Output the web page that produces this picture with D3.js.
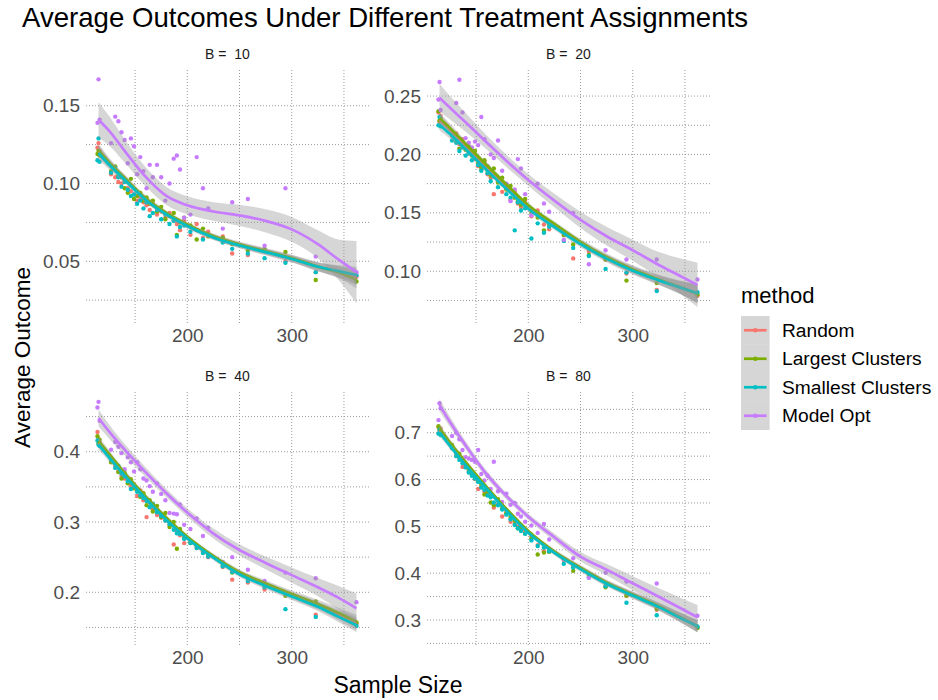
<!DOCTYPE html>
<html>
<head>
<meta charset="utf-8">
<script src="https://cdn.jsdelivr.net/npm/d3@7"></script>
<style>
  body { margin: 0; background: #fff; }
  svg { display: block; font-family: "Liberation Sans", Arial, sans-serif; }
  .grid line { stroke: #9a9a9a; stroke-width: 1; stroke-dasharray: 1 2; }
  .tick-label { fill: #4d4d4d; font-size: 19px; }
  .strip { white-space: pre; }
</style>
</head>
<body>
<div id="chart"></div>
<script>
const width = 938;
const height = 700;

const methods = ["Random", "Largest Clusters", "Smallest Clusters", "Model Opt"];
const methodColors = ["#F8766D", "#7CAE00", "#00BFC4", "#C77CFF"];
const panelLabels = ["B =  10", "B =  20", "B =  40", "B =  80"];

// network sizes shared by every panel
const sampleSizes = [114, 115, 116, 127, 131, 134, 137, 140, 143, 146, 149, 152, 155, 158, 161, 164, 167, 171,
  175, 179, 183, 187, 190, 193, 197, 203, 209, 215, 220, 234, 243, 258, 274, 294, 323, 362];

// B = 10
const b10Random = [0.123, 0.126, 0.121, 0.106, 0.104, 0.101, 0.100, 0.102, 0.097, 0.095, 0.093, 0.089, 0.091, 0.088,
  0.086, 0.083, 0.087, 0.080, 0.082, 0.078, 0.081, 0.076, 0.074, 0.070, 0.076, 0.067, 0.074, 0.065, 0.069, 0.066,
  0.055, 0.054, 0.057, 0.050, 0.043, 0.040];
const b10Largest = [0.119, 0.121, 0.118, 0.108, 0.111, 0.105, 0.104, 0.097, 0.094, 0.103, 0.090, 0.092, 0.094, 0.089,
  0.091, 0.087, 0.089, 0.082, 0.085, 0.077, 0.079, 0.081, 0.067, 0.075, 0.078, 0.073, 0.064, 0.071, 0.066, 0.065,
  0.061, 0.057, 0.058, 0.056, 0.038, 0.037];
const b10Smallest = [0.115, 0.129, 0.114, 0.107, 0.110, 0.104, 0.098, 0.101, 0.096, 0.092, 0.093, 0.087, 0.089, 0.084,
  0.088, 0.079, 0.081, 0.083, 0.077, 0.080, 0.074, 0.076, 0.066, 0.072, 0.073, 0.069, 0.070, 0.064, 0.067, 0.062,
  0.058, 0.055, 0.052, 0.049, 0.043, 0.041];
const b10Model = [0.139, 0.167, 0.141, 0.126, 0.143, 0.140, 0.133, 0.128, 0.113, 0.129, 0.124, 0.106, 0.117, 0.108,
  0.097, 0.112, 0.104, 0.112, 0.104, 0.089, 0.100, 0.116, 0.118, 0.109, 0.078, 0.080, 0.117, 0.097, 0.084, 0.071,
  0.088, 0.090, 0.060, 0.097, 0.053, 0.043];

// B = 20
const b20Random = [0.236, 0.228, 0.233, 0.216, 0.218, 0.209, 0.213, 0.205, 0.201, 0.204, 0.196, 0.190, 0.187, 0.194,
  0.183, 0.180, 0.166, 0.177, 0.168, 0.171, 0.161, 0.168, 0.158, 0.155, 0.161, 0.147, 0.152, 0.140, 0.136, 0.131,
  0.111, 0.117, 0.110, 0.098, 0.084, 0.079];
const b20Largest = [0.237, 0.229, 0.231, 0.219, 0.211, 0.205, 0.208, 0.204, 0.207, 0.199, 0.203, 0.193, 0.189, 0.195,
  0.186, 0.182, 0.188, 0.176, 0.180, 0.170, 0.173, 0.163, 0.160, 0.157, 0.162, 0.150, 0.146, 0.135, 0.140, 0.131,
  0.123, 0.114, 0.110, 0.092, 0.090, 0.080];
const b20Smallest = [0.225, 0.232, 0.224, 0.212, 0.210, 0.203, 0.206, 0.199, 0.201, 0.195, 0.197, 0.191, 0.186, 0.189,
  0.184, 0.177, 0.181, 0.172, 0.175, 0.166, 0.163, 0.135, 0.159, 0.152, 0.154, 0.128, 0.141, 0.133, 0.138, 0.126,
  0.120, 0.113, 0.102, 0.099, 0.083, 0.082];
const b20Model = [0.247, 0.262, 0.238, 0.217, 0.244, 0.264, 0.236, 0.214, 0.210, 0.206, 0.211, 0.208, 0.232, 0.213,
  0.190, 0.200, 0.197, 0.212, 0.186, 0.175, 0.160, 0.170, 0.196, 0.188, 0.166, 0.148, 0.175, 0.158, 0.151, 0.127,
  0.150, 0.106, 0.118, 0.110, 0.110, 0.093];

// B = 40
const b40Random = [0.428, 0.418, 0.413, 0.387, 0.380, 0.372, 0.366, 0.362, 0.360, 0.352, 0.350, 0.337, 0.345, 0.331,
  0.307, 0.328, 0.318, 0.310, 0.306, 0.302, 0.296, 0.268, 0.286, 0.281, 0.270, 0.272, 0.263, 0.258, 0.250, 0.236,
  0.218, 0.214, 0.204, 0.196, 0.168, 0.155];
const b40Largest = [0.422, 0.412, 0.417, 0.385, 0.384, 0.371, 0.362, 0.370, 0.355, 0.361, 0.348, 0.345, 0.336, 0.341,
  0.324, 0.331, 0.315, 0.323, 0.307, 0.313, 0.293, 0.300, 0.262, 0.290, 0.278, 0.270, 0.266, 0.259, 0.253, 0.238,
  0.228, 0.220, 0.210, 0.195, 0.187, 0.157];
const b40Smallest = [0.416, 0.410, 0.408, 0.389, 0.377, 0.380, 0.369, 0.365, 0.358, 0.347, 0.352, 0.343, 0.338, 0.334,
  0.330, 0.321, 0.326, 0.314, 0.309, 0.302, 0.297, 0.289, 0.284, 0.283, 0.276, 0.270, 0.263, 0.256, 0.251, 0.237,
  0.229, 0.216, 0.207, 0.176, 0.165, 0.152];
const b40Model = [0.463, 0.471, 0.444, 0.403, 0.414, 0.407, 0.398, 0.375, 0.392, 0.385, 0.372, 0.385, 0.375, 0.362,
  0.359, 0.351, 0.343, 0.355, 0.340, 0.331, 0.313, 0.312, 0.311, 0.325, 0.296, 0.290, 0.305, 0.280, 0.292, 0.243,
  0.250, 0.232, 0.216, 0.228, 0.220, 0.186];

// B = 80
const b80Random = [0.712, 0.705, 0.709, 0.667, 0.652, 0.646, 0.627, 0.631, 0.618, 0.613, 0.601, 0.580, 0.585, 0.575,
  0.570, 0.565, 0.540, 0.547, 0.521, 0.530, 0.510, 0.505, 0.500, 0.492, 0.490, 0.478, 0.460, 0.447, 0.446, 0.428,
  0.416, 0.392, 0.373, 0.352, 0.322, 0.284];
const b80Largest = [0.714, 0.709, 0.703, 0.674, 0.657, 0.655, 0.640, 0.633, 0.622, 0.610, 0.604, 0.597, 0.590, 0.568,
  0.574, 0.551, 0.545, 0.558, 0.540, 0.528, 0.520, 0.512, 0.496, 0.498, 0.485, 0.474, 0.440, 0.444, 0.446, 0.430,
  0.405, 0.396, 0.370, 0.352, 0.324, 0.283];
const b80Smallest = [0.698, 0.706, 0.695, 0.668, 0.650, 0.642, 0.635, 0.626, 0.615, 0.608, 0.602, 0.595, 0.583, 0.578,
  0.566, 0.562, 0.551, 0.545, 0.536, 0.525, 0.515, 0.503, 0.496, 0.490, 0.484, 0.470, 0.458, 0.455, 0.447, 0.420,
  0.412, 0.391, 0.372, 0.337, 0.310, 0.286];
const b80Model = [0.727, 0.763, 0.752, 0.693, 0.700, 0.686, 0.663, 0.648, 0.645, 0.642, 0.638, 0.663, 0.612, 0.598,
  0.608, 0.580, 0.638, 0.575, 0.552, 0.570, 0.546, 0.550, 0.527, 0.521, 0.510, 0.502, 0.486, 0.505, 0.472, 0.430,
  0.432, 0.390, 0.401, 0.382, 0.378, 0.309];

// loess fits, with their standard-error half widths
const smoothX = [115, 125, 140, 160, 180, 200, 225, 250, 275, 300, 325, 345, 362];

const b10RandomFit = [0.121, 0.113, 0.103, 0.0898, 0.0803, 0.0728, 0.0655, 0.0603, 0.0560, 0.0516, 0.0463, 0.0432, 0.0400];
const b10LargestFit = [0.1215, 0.1138, 0.1037, 0.0906, 0.0811, 0.0737, 0.0662, 0.0609, 0.0566, 0.0521, 0.0466, 0.0428, 0.0380];
const b10SmallestFit = [0.1195, 0.1122, 0.1024, 0.0896, 0.0801, 0.0727, 0.0653, 0.0601, 0.0559, 0.0515, 0.0465, 0.0437, 0.0412];
const b10ModelFit = [0.141, 0.134, 0.121, 0.1044, 0.092, 0.086, 0.082, 0.0795, 0.0760, 0.0705, 0.061, 0.051, 0.043];
const b10OtherSe = [0.004, 0.003, 0.0022, 0.0018, 0.0016, 0.0016, 0.0017, 0.0018, 0.002, 0.0022, 0.0028, 0.0038, 0.0055];
const b10ModelSe = [0.0115, 0.0095, 0.0075, 0.0062, 0.0058, 0.0058, 0.006, 0.0068, 0.0075, 0.008, 0.009, 0.013, 0.020];

const b20RandomFit = [0.2298, 0.221, 0.2075, 0.1895, 0.172, 0.1553, 0.139, 0.124, 0.1114, 0.1011, 0.0925, 0.0862, 0.0808];
const b20LargestFit = [0.231, 0.2225, 0.209, 0.191, 0.1735, 0.1565, 0.1405, 0.1252, 0.1122, 0.1018, 0.0930, 0.0865, 0.0805];
const b20SmallestFit = [0.2255, 0.2175, 0.2045, 0.1868, 0.1697, 0.1535, 0.1378, 0.1232, 0.1108, 0.1005, 0.0922, 0.0862, 0.0812];
const b20ModelFit = [0.2485, 0.240, 0.2275, 0.2105, 0.1937, 0.1782, 0.1605, 0.144, 0.130, 0.118, 0.1054, 0.0962, 0.0883];
const b20OtherSe = [0.005, 0.004, 0.003, 0.0025, 0.0022, 0.0022, 0.0024, 0.0026, 0.003, 0.0033, 0.004, 0.0055, 0.008];
const b20ModelSe = [0.012, 0.010, 0.008, 0.006, 0.0052, 0.005, 0.0058, 0.007, 0.008, 0.009, 0.011, 0.015, 0.019];

const b40RandomFit = [0.413, 0.395, 0.368, 0.335, 0.3045, 0.2777, 0.2503, 0.227, 0.211, 0.1958, 0.181, 0.1675, 0.1555];
const b40LargestFit = [0.415, 0.397, 0.3695, 0.3365, 0.306, 0.279, 0.2515, 0.2285, 0.2125, 0.1975, 0.1835, 0.1705, 0.1585];
const b40SmallestFit = [0.410, 0.392, 0.366, 0.3335, 0.303, 0.2765, 0.2492, 0.2255, 0.209, 0.194, 0.1795, 0.165, 0.1530];
const b40ModelFit = [0.448, 0.429, 0.403, 0.371, 0.341, 0.3135, 0.2836, 0.2602, 0.2418, 0.2244, 0.2072, 0.192, 0.1772];
const b40OtherSe = [0.007, 0.0055, 0.0045, 0.0038, 0.0034, 0.0034, 0.0036, 0.004, 0.0045, 0.005, 0.006, 0.0075, 0.0095];
const b40ModelSe = [0.012, 0.010, 0.008, 0.007, 0.006, 0.006, 0.007, 0.008, 0.009, 0.011, 0.013, 0.017, 0.021];

const b80RandomFit = [0.707, 0.677, 0.635, 0.583, 0.5335, 0.4887, 0.445, 0.4105, 0.379, 0.3534, 0.3284, 0.306, 0.2866];
const b80LargestFit = [0.709, 0.679, 0.637, 0.5845, 0.535, 0.490, 0.4462, 0.4118, 0.3802, 0.3545, 0.3292, 0.3065, 0.2862];
const b80SmallestFit = [0.701, 0.672, 0.631, 0.5805, 0.531, 0.4865, 0.4432, 0.4088, 0.3775, 0.3522, 0.3275, 0.3055, 0.2868];
const b80ModelFit = [0.759, 0.723, 0.673, 0.6115, 0.5625, 0.5207, 0.4768, 0.4353, 0.4075, 0.3784, 0.3498, 0.3262, 0.3058];
const b80OtherSe = [0.009, 0.007, 0.006, 0.005, 0.0045, 0.0045, 0.005, 0.0055, 0.006, 0.007, 0.008, 0.010, 0.013];
const b80ModelSe = [0.013, 0.011, 0.009, 0.008, 0.007, 0.007, 0.008, 0.010, 0.012, 0.015, 0.018, 0.022, 0.026];

// axis limits and breaks
const xDomain = [103, 374];
const xTicks = [200, 300];
const yDomains = [[0.0103, 0.173], [0.0557, 0.2723], [0.125, 0.485], [0.2466, 0.787]];
const yTicks = [[0.05, 0.10, 0.15], [0.10, 0.15, 0.20, 0.25], [0.2, 0.3, 0.4], [0.3, 0.4, 0.5, 0.6, 0.7]];
const yFormats = [".2f", ".2f", ".1f", ".1f"];

const panels = [
  { points: [b10Random, b10Largest, b10Smallest, b10Model],
    fits: [b10RandomFit, b10LargestFit, b10SmallestFit, b10ModelFit],
    se: [b10OtherSe, b10OtherSe, b10OtherSe, b10ModelSe] },
  { points: [b20Random, b20Largest, b20Smallest, b20Model],
    fits: [b20RandomFit, b20LargestFit, b20SmallestFit, b20ModelFit],
    se: [b20OtherSe, b20OtherSe, b20OtherSe, b20ModelSe] },
  { points: [b40Random, b40Largest, b40Smallest, b40Model],
    fits: [b40RandomFit, b40LargestFit, b40SmallestFit, b40ModelFit],
    se: [b40OtherSe, b40OtherSe, b40OtherSe, b40ModelSe] },
  { points: [b80Random, b80Largest, b80Smallest, b80Model],
    fits: [b80RandomFit, b80LargestFit, b80SmallestFit, b80ModelFit],
    se: [b80OtherSe, b80OtherSe, b80OtherSe, b80ModelSe] }
];

const colLeft = [86, 427];
const rowTop = [70, 392];
const panelW = 283;
const panelH = 253;

const svg = d3.select("#chart").append("svg")
  .attr("width", width)
  .attr("height", height);

svg.append("text")
  .attr("x", 22)
  .attr("y", 27)
  .attr("font-size", 27.6)
  .attr("fill", "#000")
  .text("Average Outcomes Under Different Treatment Assignments");

function minorBreaks(ticks, domain) {
  const step = ticks[1] - ticks[0];
  const out = [];
  for (let i = -1; i < ticks.length; i += 1) {
    const v = ticks[0] + step * (i + 0.5);
    if (v > domain[0] && v < domain[1]) out.push(v);
  }
  return out;
}

panels.forEach((panel, pi) => {
  const col = pi % 2;
  const row = Math.floor(pi / 2);
  const g = svg.append("g").attr("transform", `translate(${colLeft[col]},${rowTop[row]})`);

  const x = d3.scaleLinear().domain(xDomain).range([0, panelW]);
  const y = d3.scaleLinear().domain(yDomains[pi]).range([panelH, 0]);

  g.append("defs").append("clipPath").attr("id", `clip${pi}`)
    .append("rect").attr("width", panelW).attr("height", panelH);

  // grid, major and minor look alike here
  const grid = g.append("g").attr("class", "grid");
  const yLines = yTicks[pi].concat(minorBreaks(yTicks[pi], yDomains[pi]));
  const xLines = xTicks.concat(minorBreaks(xTicks, xDomain));
  grid.selectAll("line.h").data(yLines).join("line").attr("class", "h")
    .attr("x1", 0).attr("x2", panelW)
    .attr("y1", d => y(d)).attr("y2", d => y(d));
  grid.selectAll("line.v").data(xLines).join("line").attr("class", "v")
    .attr("y1", 0).attr("y2", panelH)
    .attr("x1", d => x(d)).attr("x2", d => x(d));

  // axes
  const yAxis = g.append("g")
    .call(d3.axisLeft(y).tickValues(yTicks[pi]).tickSize(0).tickPadding(6).tickFormat(d3.format(yFormats[pi])));
  const xAxis = g.append("g").attr("transform", `translate(0,${panelH})`)
    .call(d3.axisBottom(x).tickValues(xTicks).tickSize(0).tickPadding(6).tickFormat(d3.format("d")));
  [yAxis, xAxis].forEach(a => {
    a.select(".domain").remove();
    a.selectAll("text").attr("class", "tick-label").attr("font-family", null).attr("font-size", null);
  });

  // strip label
  g.append("text")
    .attr("class", "strip")
    .attr("x", panelW / 2)
    .attr("y", -11)
    .attr("text-anchor", "middle")
    .attr("font-size", 14)
    .attr("fill", "#1a1a1a")
    .text(panelLabels[pi]);

  const plot = g.append("g").attr("clip-path", `url(#clip${pi})`);

  // points first
  panel.points.forEach((vals, mi) => {
    plot.append("g").selectAll("circle")
      .data(vals.map((v, i) => [sampleSizes[i], v]))
      .join("circle")
      .attr("cx", d => x(d[0]))
      .attr("cy", d => y(d[1]))
      .attr("r", 2.2)
      .attr("fill", methodColors[mi]);
  });

  // smooths: ribbon then line per method
  const area = d3.area()
    .x(d => x(d.x))
    .y0(d => y(d.fit - d.se))
    .y1(d => y(d.fit + d.se))
    .curve(d3.curveMonotoneX);
  const line = d3.line()
    .x(d => x(d.x))
    .y(d => y(d.fit))
    .curve(d3.curveMonotoneX);

  panel.fits.forEach((fit, mi) => {
    const rows = smoothX.map((sx, i) => ({ x: sx, fit: fit[i], se: panel.se[mi][i] }));
    plot.append("path")
      .attr("d", area(rows))
      .attr("fill", "#999999")
      .attr("fill-opacity", 0.4);
    plot.append("path")
      .attr("d", line(rows))
      .attr("fill", "none")
      .attr("stroke", methodColors[mi])
      .attr("stroke-width", 2.7);
  });
});

// axis titles
svg.append("text")
  .attr("x", (colLeft[0] + colLeft[1] + panelW) / 2)
  .attr("y", 693)
  .attr("text-anchor", "middle")
  .attr("font-size", 23)
  .attr("fill", "#000")
  .text("Sample Size");

svg.append("text")
  .attr("transform", `translate(30,${(rowTop[0] + rowTop[1] + panelH) / 2}) rotate(-90)`)
  .attr("text-anchor", "middle")
  .attr("font-size", 22.5)
  .attr("fill", "#000")
  .text("Average Outcome");

// legend
const legend = svg.append("g").attr("transform", "translate(741,0)");
legend.append("text")
  .attr("x", 0)
  .attr("y", 303)
  .attr("font-size", 22)
  .attr("fill", "#000")
  .text("method");

const keyH = 28.5;
const keys = legend.selectAll("g.key").data(methods).join("g")
  .attr("class", "key")
  .attr("transform", (d, i) => `translate(0,${316 + i * keyH})`);
keys.append("rect")
  .attr("width", 28.6)
  .attr("height", keyH)
  .attr("fill", "#999999")
  .attr("fill-opacity", 0.4);
keys.append("line")
  .attr("x1", 3).attr("x2", 25.6)
  .attr("y1", keyH / 2).attr("y2", keyH / 2)
  .attr("stroke", (d, i) => methodColors[i])
  .attr("stroke-width", 2.7);
keys.append("circle")
  .attr("cx", 14.3).attr("cy", keyH / 2).attr("r", 2.2)
  .attr("fill", (d, i) => methodColors[i]);
keys.append("text")
  .attr("x", 41)
  .attr("y", keyH / 2)
  .attr("dy", "0.35em")
  .attr("font-size", 19.2)
  .attr("fill", "#000")
  .text(d => d);
</script>
</body>
</html>
